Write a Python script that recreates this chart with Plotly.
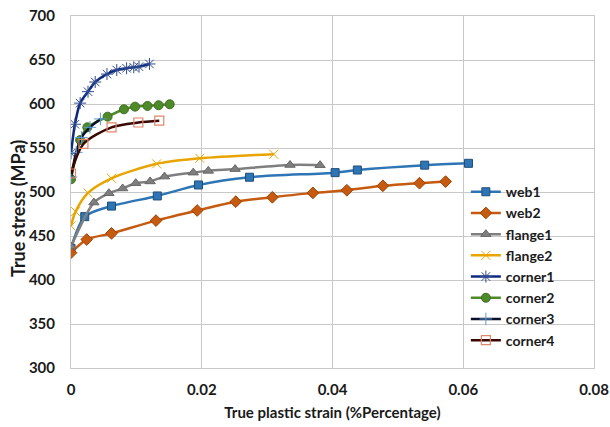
import plotly.graph_objects as go

web1_x = [0, 0.0021, 0.0062, 0.0132, 0.0195, 0.0273, 0.0404, 0.0438, 0.0541, 0.0608]
web1_y = [436, 472, 484, 495.5, 508, 516.8, 522, 525, 530.5, 532.6]

web2_x = [0, 0.0024, 0.0062, 0.013, 0.0193, 0.0252, 0.0308, 0.037, 0.0422, 0.0477, 0.0533, 0.0573]
web2_y = [431, 446, 453, 467.5, 479, 489, 494, 499, 502, 507, 510, 511.8]

flange1_x = [0, 0.0035, 0.0058, 0.0079, 0.0099, 0.0121, 0.0143, 0.0187, 0.021, 0.0251, 0.0335, 0.0381]
flange1_y = [438, 488, 498.6, 504, 510, 512, 517.5, 522, 524, 526, 530.7, 530.5]

flange2_x = [0, 0.0007, 0.0026, 0.0062, 0.0131, 0.0197, 0.031]
flange2_y = [461.5, 477.7, 499, 515.6, 532, 538.3, 543]

corner1_x = [0, 0.0006, 0.0014, 0.0026, 0.0037, 0.0055, 0.007, 0.0085, 0.0096, 0.0104, 0.012]
corner1_y = [544, 577, 601, 614, 625, 634, 638.6, 640.6, 641.7, 642.4, 645.5]

corner2_x = [0, 0.0014, 0.0025, 0.0056, 0.0081, 0.0098, 0.0117, 0.0134, 0.0151]
corner2_y = [514.5, 559, 573.5, 585.6, 594, 597, 597.8, 598.6, 599.7]

corner3_x = [0, 0.0008, 0.0016, 0.0029, 0.0045]
corner3_y = [517, 545, 562, 573.5, 583]

corner4_x = [0, 0.0019, 0.0062, 0.0103, 0.0135]
corner4_y = [521, 554.6, 573.5, 579, 581]

x_ticks = [0, 0.02, 0.04, 0.06, 0.08]
x_tick_labels = ["0", "0.02", "0.04", "0.06", "0.08"]
y_ticks = [300, 350, 400, 450, 500, 550, 600, 650, 700]

series = [
    ("web1", web1_x, web1_y, "#2E75B6",
     dict(symbol="square", size=8, color="#2E75B6", line=dict(color="#1F4E79", width=1))),
    ("web2", web2_x, web2_y, "#C55A11",
     dict(symbol="diamond", size=9, color="#C55A11", line=dict(color="#A04000", width=1))),
    ("flange1", flange1_x, flange1_y, "#7F7F7F",
     dict(symbol="triangle-up", size=9, color="#7F7F7F", line=dict(color="#666666", width=1))),
    ("flange2", flange2_x, flange2_y, "#E8A400",
     dict(symbol="x-thin", size=9, color="#E8A400", line=dict(color="#E8A400", width=1))),
    ("corner1", corner1_x, corner1_y, "#0E2A80",
     dict(symbol="asterisk-open", size=10, color="#2F4A8F", line=dict(color="#2F4A8F", width=1))),
    ("corner2", corner2_x, corner2_y, "#4E8A2A",
     dict(symbol="circle", size=9, color="#4E8A2A", line=dict(color="#3E7020", width=1))),
    ("corner3", corner3_x, corner3_y, "#0A0F2A",
     dict(symbol="cross-thin", size=9, color="#5B9BD5", line=dict(color="#5B9BD5", width=1))),
    ("corner4", corner4_x, corner4_y, "#3A0800",
     dict(symbol="square-open", size=9, color="#E0866A", line=dict(color="#E0866A", width=1.2))),
]

fig = go.Figure()
for name, xs, ys, lc, mk in series:
    fig.add_trace(go.Scatter(
        x=xs, y=ys, name=name, mode="lines+markers",
        line=dict(color=lc, width=2.5, shape="spline", smoothing=0.8),
        marker=mk,
    ))

font_family = "Lato, Open Sans, sans-serif"
txt = "#1a1a1a"

# white panel behind the legend (hides gridlines there, as in the original)
fig.add_shape(type="rect", xref="paper", yref="paper",
              x0=0.732, x1=0.985, y0=0.055, y1=0.535,
              fillcolor="white", line=dict(width=0), layer="between")

fig.add_annotation(text="True stress (MPa)", xref="paper", yref="paper",
                   x=-0.101, y=0.452, textangle=-90, showarrow=False,
                   xanchor="center", yanchor="middle",
                   font=dict(size=18, family=font_family, color=txt, weight="bold"))

fig.update_layout(
    width=610, height=427,
    margin=dict(l=71, r=16, t=16, b=59),
    paper_bgcolor="white", plot_bgcolor="white",
    font=dict(family=font_family, color=txt),
    showlegend=True,
    legend=dict(
        x=0.755, y=0.545, xanchor="left", yanchor="top",
        bgcolor="rgba(0,0,0,0)", borderwidth=0,
        font=dict(size=14, family=font_family, color=txt, weight="bold"),
        tracegroupgap=0, itemwidth=30,
    ),
    xaxis=dict(
        range=[0, 0.08], tickvals=x_ticks, ticktext=x_tick_labels,
        showgrid=True, gridcolor="#C8C8C8", gridwidth=1,
        showline=True, linecolor="#C8C8C8", linewidth=1, mirror=True,
        zeroline=False, ticks="", automargin=False, ticklabelstandoff=8,
        tickfont=dict(size=15, family=font_family, color=txt, weight="bold"),
        title=dict(text="True plastic strain (%Percentage)", standoff=10,
                   font=dict(size=15, family=font_family, color=txt, weight="bold")),
    ),
    yaxis=dict(
        range=[300, 700], tickvals=y_ticks,
        showgrid=True, gridcolor="#C8C8C8", gridwidth=1,
        showline=True, linecolor="#C8C8C8", linewidth=1, mirror=True,
        zeroline=False, ticks="", automargin=False, ticklabelstandoff=12,
        tickfont=dict(size=15, family=font_family, color=txt, weight="bold"),
    ),
)

fig.write_html("out.html", config={"displayModeBar": False},
               post_script="document.body.style.margin='0';document.body.style.overflow='hidden';")
